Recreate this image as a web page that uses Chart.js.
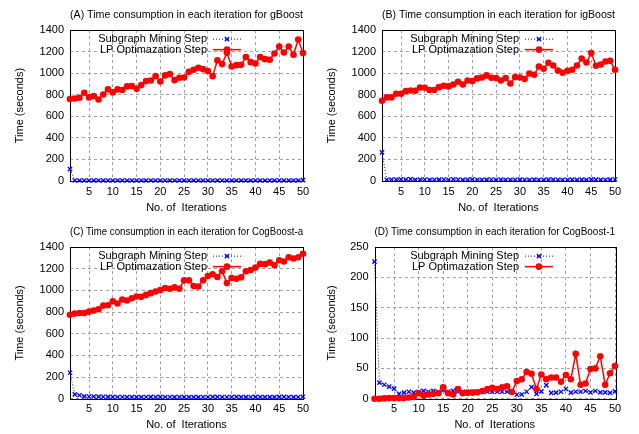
<!DOCTYPE html>
<html>
<head>
<meta charset="utf-8">
<script src="https://cdn.jsdelivr.net/npm/chart.js"></script>
<style>
  body { margin: 0; background: #fff; }
  .panel { position: absolute; }
</style>
</head>
<body>
<div class="panel" style="left:0;top:0"><canvas id="chartA" width="320" height="217"></canvas></div>
<div class="panel" style="left:320px;top:0"><canvas id="chartB" width="319" height="217"></canvas></div>
<div class="panel" style="left:0;top:217px"><canvas id="chartC" width="320" height="217"></canvas></div>
<div class="panel" style="left:320px;top:217px"><canvas id="chartD" width="319" height="217"></canvas></div>
<script>
const iterations = [1,2,3,4,5,6,7,8,9,10,11,12,13,14,15,16,17,18,19,20,21,22,23,24,25,26,27,28,29,30,31,32,33,34,35,36,37,38,39,40,41,42,43,44,45,46,47,48,49,50];
const xTicks = [5,10,15,20,25,30,35,40,45,50];
const yTicksLarge = [0,200,400,600,800,1000,1200,1400];
const yTicksSmall = [0,50,100,150,200,250];

const gBoostMining = [110,5,5,5,5,5,5,5,5,5,5,5,5,5,5,5,5,5,5,5,5,5,5,5,5,5,5,5,5,5,5,5,5,5,5,5,5,5,5,5,5,5,5,5,5,5,5,5,5,8];
const gBoostLP = [760,766,773,819,776,788,757,803,850,822,850,844,878,881,856,890,927,933,973,924,980,992,936,958,961,1013,1032,1051,1038,1020,973,1119,1085,1190,1063,1075,1078,1150,1103,1091,1150,1131,1125,1183,1248,1193,1248,1171,1313,1187];

const igBoostMining = [266,12,14,13,15,14,18,12,13,14,12,12,13,14,12,16,14,12,13,16,12,12,13,14,12,13,12,12,12,13,12,12,13,12,12,13,14,12,12,12,13,12,13,12,15,13,12,12,13,14];
const igBoostLP = [745,776,776,810,810,834,840,837,868,865,844,844,871,884,878,896,921,896,933,927,952,961,980,958,955,933,955,905,964,961,946,998,986,1063,1041,1097,1072,1026,1004,1023,1032,1072,1137,1100,1187,1069,1081,1109,1115,1032];

const cogAMining = [240,40,32,22,20,20,19,18,17,17,16,16,15,16,15,15,16,17,16,17,16,16,15,16,15,15,15,15,16,16,17,17,16,16,16,17,15,15,16,17,15,15,15,15,17,17,16,15,16,18];
const cogALP = [776,786,792,792,804,814,826,860,863,900,879,916,907,928,944,941,959,975,990,1003,1022,1015,1028,1015,1093,1093,1040,1037,1093,1133,1149,1124,1177,1068,1115,1108,1121,1177,1189,1211,1245,1242,1257,1233,1279,1267,1307,1295,1307,1338];

const cog1Mining = [226,26.5,23,20,16.5,8,10,11.5,10,11.5,13,11.5,13,11.5,14,11.5,13,11.5,11.5,9.5,11.5,11.5,13,11.5,11.5,11.5,11.5,11.5,11.5,6.5,7,11.5,19,8,12,22.5,9.5,10,11.5,16,10,11.5,11.5,12.7,10.5,12.7,10.5,10.5,9.5,12];
const cog1LP = [0,0,0.5,1,1,1,1,2,3,9,5,7,8,9,19,9,7,16,9,10,10,10.5,12.7,16,18,16,19,20.5,11,29,32,44,41,16,40,32,35,35,28,39,32,74,23,25,49,50,70,23,42,54];

const FONT = 'Liberation Sans, Arial, Helvetica, sans-serif';

// gnuplot style key: text on the left, sample on the right, inside top-right
const keyPlugin = {
  id: 'gnuKey',
  afterDatasetsDraw(chart) {
    const ctx = chart.ctx;
    const area = chart.chartArea;
    ctx.save();
    ctx.font = '11px ' + FONT;
    ctx.textAlign = 'right';
    ctx.textBaseline = 'middle';
    chart.data.datasets.forEach((ds, row) => {
      const y = area.top + 9 + row * 10.5;
      ctx.fillStyle = '#000';
      ctx.fillText(ds.label, area.right - 96, y);
      ctx.strokeStyle = ds.borderColor;
      ctx.lineWidth = ds.borderWidth;
      ctx.setLineDash(ds.borderDash || []);
      ctx.beginPath();
      ctx.moveTo(area.right - 90, y);
      ctx.lineTo(area.right - 62, y);
      ctx.stroke();
      ctx.setLineDash([]);
      ctx.fillStyle = ds.pointBackgroundColor;
      ctx.strokeStyle = ds.pointBorderColor;
      ctx.lineWidth = ds.pointBorderWidth;
      Chart.helpers.drawPoint(ctx, {pointStyle: ds.pointStyle, radius: ds.pointRadius, borderWidth: ds.pointBorderWidth}, area.right - 76, y);
    });
    ctx.restore();
  }
};

// closed black frame round the plot
const framePlugin = {
  id: 'frame',
  beforeDatasetsDraw(chart) {
    const a = chart.chartArea;
    const ctx = chart.ctx;
    ctx.save();
    ctx.strokeStyle = '#000';
    ctx.lineWidth = 1;
    ctx.strokeRect(Math.round(a.left) + 0.5, Math.round(a.top) + 0.5, Math.round(a.width), Math.round(a.height));
    ctx.restore();
  }
};

const plainNumber = v => String(v);

function makeChart(id, title, mining, lp, yTicks, yMax, padLeft, padRight, yWidth, xHeight) {
  new Chart(document.getElementById(id), {
    type: 'line',
    data: {
      labels: iterations,
      datasets: [
        {
          label: 'Subgraph Mining Step',
          data: mining,
          borderColor: '#0000ff',
          borderWidth: 1,
          borderDash: [1, 2],
          pointStyle: 'crossRot',
          pointRadius: 3,
          pointBorderWidth: 1.3,
          pointBorderColor: '#0000ff',
          pointBackgroundColor: '#0000ff',
          tension: 0,
          clip: false,
          order: 1
        },
        {
          label: 'LP Optimazation Step',
          data: lp,
          borderColor: '#ff0000',
          borderWidth: 1.5,
          pointStyle: 'circle',
          pointRadius: 3.3,
          pointBorderWidth: 0,
          pointBorderColor: '#ff0000',
          pointBackgroundColor: '#ff0000',
          tension: 0,
          clip: false,
          order: 0
        }
      ]
    },
    options: {
      responsive: false,
      animation: false,
      layout: { padding: { left: padLeft, right: padRight, top: 0, bottom: 0 } },
      plugins: {
        legend: { display: false },
        tooltip: { enabled: false },
        title: {
          display: true,
          text: title,
          fullSize: false,
          color: '#000',
          font: { family: FONT, size: 11.2, weight: 'normal' },
          padding: { top: 8.5, bottom: 8.2 }
        }
      },
      scales: {
        x: {
          type: 'linear',
          min: 1,
          max: 50,
          afterBuildTicks: s => { s.ticks = xTicks.map(v => ({ value: v })); },
          afterFit: s => { s.height = xHeight; s.paddingLeft = 0; s.paddingRight = 0; },
          ticks: { color: '#000', font: { family: FONT, size: 11 }, padding: 4, maxRotation: 0, autoSkip: false, callback: plainNumber },
          grid: { color: '#a0a0a0', lineWidth: 1, drawTicks: false },
          border: { display: false, dash: [3, 3] },
          title: { display: true, text: 'No. of  Iterations', color: '#000', font: { family: FONT, size: 11 }, padding: { top: 0, bottom: 2.4 } }
        },
        y: {
          min: 0,
          max: yMax,
          afterBuildTicks: s => { s.ticks = yTicks.map(v => ({ value: v })); },
          afterFit: s => { s.width = yWidth; s.paddingTop = 0; s.paddingBottom = 0; },
          ticks: { color: '#000', font: { family: FONT, size: 11 }, padding: 6, callback: plainNumber },
          grid: { color: '#a0a0a0', lineWidth: 1, drawTicks: false },
          border: { display: false, dash: [3, 3] },
          title: { display: true, text: 'Time (seconds)', color: '#000', font: { family: FONT, size: 11 }, padding: { top: 5.4, bottom: 0 } }
        }
      }
    },
    plugins: [keyPlugin, framePlugin]
  });
}

makeChart('chartA', '(A) Time consumption in each iteration for gBoost', gBoostMining, gBoostLP, yTicksLarge, 1400, 8, 17, 62, 36);
makeChart('chartB', '(B) Time consumption in each iteration for igBoost', igBoostMining, igBoostLP, yTicksLarge, 1400, 0, 24, 62, 36);
makeChart('chartC', '(C) Time consumption in each iteration for CogBoost-a', cogAMining, cogALP, yTicksLarge, 1400, 8, 17, 62, 35.3);
makeChart('chartD', '(D) Time consumption in each iteration for CogBoost-1', cog1Mining, cog1LP, yTicksSmall, 250, 0, 24, 54.5, 35.3);
</script>
</body>
</html>
